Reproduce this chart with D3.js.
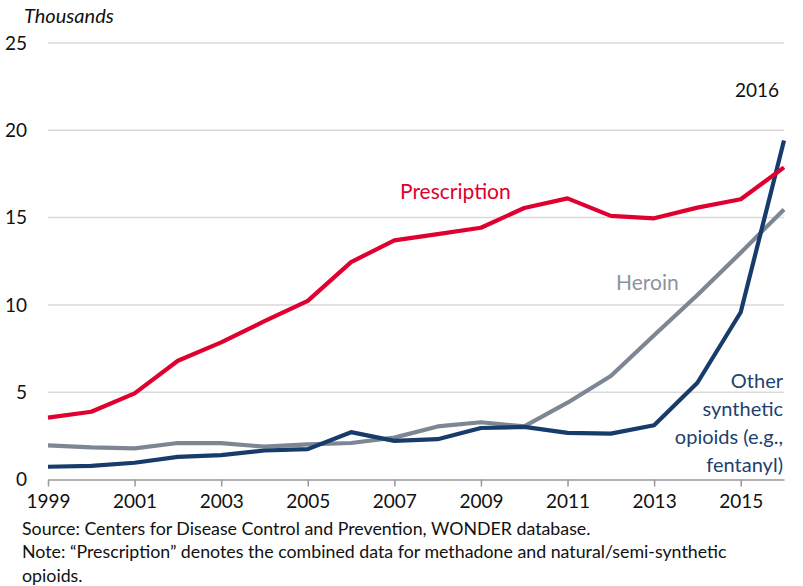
<!DOCTYPE html>
<html><head><meta charset="utf-8">
<script src="https://cdn.jsdelivr.net/npm/d3@7"></script>
<style>body{margin:0;background:#fff}svg{display:block;font-family:Lato,"Open Sans",sans-serif}</style>
</head><body>
<svg id="c" width="803" height="586"></svg>
<script>
const years = d3.range(1999, 2017);
const prescription = [3.54,3.88,4.93,6.80,7.85,9.07,10.23,12.45,13.70,14.05,14.42,15.55,16.10,15.10,14.96,15.57,16.05,17.88];
const heroin = [1.96,1.84,1.78,2.09,2.08,1.88,2.01,2.09,2.40,3.04,3.28,3.04,4.40,5.93,8.26,10.57,12.99,15.47];
const synthetic = [0.73,0.78,0.96,1.30,1.40,1.66,1.74,2.71,2.21,2.31,2.95,3.01,2.67,2.63,3.11,5.54,9.58,19.41];
const yTicks = [0,5,10,15,20,25];
const xTicks = [1999,2001,2003,2005,2007,2009,2011,2013,2015];
const notes = ["Source: Centers for Disease Control and Prevention, WONDER database.",
  "Note: \u201cPrescription\u201d denotes the combined data for methadone and natural/semi-synthetic",
  "opioids."];

const svg = d3.select("#c");
const x = d3.scaleLinear().domain([1999,2016]).range([48,784]);
const y = d3.scaleLinear().domain([0,25]).range([479.5,43]);

// gridlines
svg.append("g").selectAll("line").data(yTicks.filter(d=>d>0)).join("line")
  .attr("x1",x(1999)).attr("x2",x(2016)).attr("y1",d=>y(d)).attr("y2",d=>y(d))
  .attr("stroke","#d9d9d9").attr("stroke-width",1.5);
// y labels
svg.append("g").selectAll("text").data(yTicks).join("text")
  .attr("x",27).attr("y",d=>y(d)).attr("dy","0.35em").attr("text-anchor","end")
  .attr("font-size",19).attr("fill","#111").text(d=>d);
// x axis
const xAxis = d3.axisBottom(x).tickValues(xTicks).tickFormat(d3.format("d")).tickSize(7).tickSizeOuter(0).tickPadding(8);
const gx = svg.append("g").attr("transform",`translate(0,${y(0)})`).call(xAxis);
gx.select(".domain").attr("stroke","#999").attr("stroke-width",1.5);
gx.selectAll(".tick line").attr("stroke","#999").attr("stroke-width",1.5);
gx.selectAll(".tick text").attr("font-size",19).attr("fill","#111").attr("font-family","Lato");

svg.append("text").attr("x",24).attr("y",23).attr("font-style","italic").attr("font-size",20).attr("fill","#111").text("Thousands");

const line = d3.line().x((d,i)=>x(years[i])).y(d=>y(d));
const series = [
  {v:heroin, c:"#7D8794"},
  {v:synthetic, c:"#173C6C"},
  {v:prescription, c:"#DF0030"}
];
svg.append("g").selectAll("path").data(series).join("path")
  .attr("d",d=>line(d.v)).attr("fill","none").attr("stroke",d=>d.c).attr("stroke-width",4.2)
  .attr("stroke-linejoin","round");

// labels
svg.append("text").attr("x",400).attr("y",199).attr("font-size",21).attr("fill","#DF0030").text("Prescription");
svg.append("text").attr("x",616).attr("y",290).attr("font-size",21).attr("fill","#8A94A0").text("Heroin");
const other = ["Other","synthetic","opioids (e.g.,","fentanyl)"];
svg.append("g").selectAll("text").data(other).join("text")
  .attr("x",783).attr("y",(d,i)=>388+i*28).attr("text-anchor","end").attr("font-size",20).attr("fill","#1D4170").text(d=>d);
svg.append("text").attr("x",779).attr("y",97).attr("text-anchor","end").attr("font-size",19).attr("fill","#111").text("2016");

svg.append("g").selectAll("text").data(notes).join("text")
  .attr("x",22).attr("y",(d,i)=>535+i*23.3).attr("font-size",17.8).attr("fill","#111").text(d=>d);
</script>
</body></html>
